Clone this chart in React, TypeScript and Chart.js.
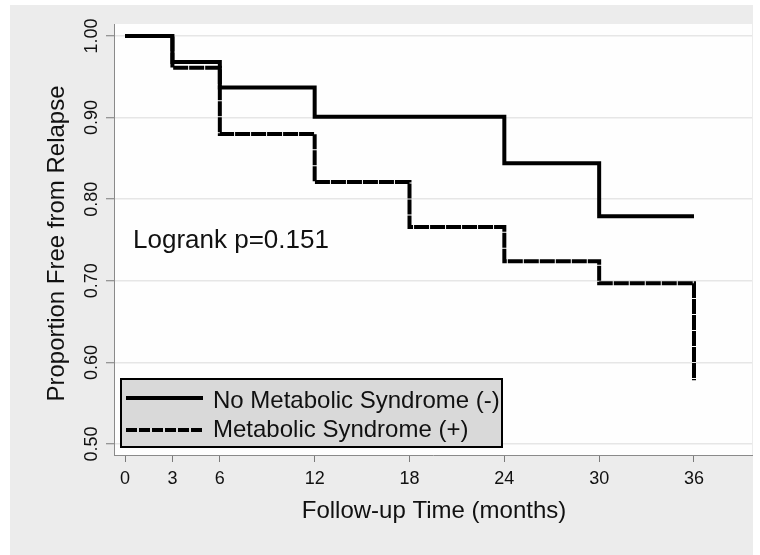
import React, { useEffect, useRef } from "react";
import { Chart, registerables } from "chart.js";

Chart.register(...registerables);

const monthsNoMetS = [0, 3, 6, 12, 24, 30, 36];
const survivalNoMetS = [1.0, 0.968, 0.937, 0.901, 0.844, 0.779, 0.779];
const monthsMetS = [0, 3, 6, 12, 18, 24, 30, 36];
const survivalMetS = [1.0, 0.961, 0.88, 0.821, 0.766, 0.724, 0.697, 0.578];
const xTickValues = [0, 3, 6, 12, 18, 24, 30, 36];
const yTickValues = [0.5, 0.6, 0.7, 0.8, 0.9, 1.0];
const seriesLabels = ["No Metabolic Syndrome (-)", "Metabolic Syndrome (+)"];
const xTitle = "Follow-up Time (months)";
const yTitle = "Proportion Free from Relapse";
const annotationText = "Logrank p=0.151";

const FONT = '"Liberation Sans", Arial, sans-serif';

const decorPlugin = {
  id: "decor",
  beforeDraw(chart: any) {
    const ctx = chart.ctx;
    const a = chart.chartArea;
    ctx.save();
    ctx.fillStyle = "#ffffff";
    ctx.fillRect(0, 0, chart.width, chart.height);
    ctx.fillStyle = "#ececec";
    ctx.fillRect(10, 5, 743, 550);
    ctx.fillStyle = "#fefefe";
    ctx.fillRect(a.left, a.top, a.right - a.left, a.bottom - a.top);
    ctx.restore();
  },
  afterDraw(chart: any) {
    const ctx = chart.ctx;
    const a = chart.chartArea;
    const y = chart.scales.y;
    ctx.save();
    ctx.fillStyle = "#111111";
    // y tick labels (rotated)
    ctx.font = `18px ${FONT}`;
    ctx.textAlign = "center";
    ctx.textBaseline = "alphabetic";
    for (const v of yTickValues) {
      const py = y.getPixelForValue(v);
      ctx.save();
      ctx.translate(97, py);
      ctx.rotate(-Math.PI / 2);
      ctx.fillText(v.toFixed(2), 0, 0);
      ctx.restore();
    }
    // y title
    ctx.font = `24px ${FONT}`;
    ctx.save();
    ctx.translate(64, (a.top + a.bottom) / 2 + 4);
    ctx.rotate(-Math.PI / 2);
    ctx.fillText(yTitle, 0, 0);
    ctx.restore();
    // x title
    ctx.fillText(xTitle, 434, 518);
    // annotation
    ctx.font = `26px ${FONT}`;
    ctx.textAlign = "left";
    ctx.fillText(annotationText, 133, 248);
    // legend
    ctx.fillStyle = "#d9d9d9";
    ctx.fillRect(120, 378, 383, 70);
    ctx.strokeStyle = "#000";
    ctx.lineWidth = 2;
    ctx.strokeRect(121, 379, 381, 68);
    const rows = [398, 430];
    const dashes = [[], [11, 2]];
    const textBase = [408, 437];
    ctx.font = `24px ${FONT}`;
    for (let i = 0; i < 2; i++) {
      ctx.beginPath();
      ctx.setLineDash(dashes[i]);
      ctx.lineWidth = 4;
      ctx.moveTo(126, rows[i]);
      ctx.lineTo(203, rows[i]);
      ctx.stroke();
      ctx.setLineDash([]);
      ctx.fillStyle = "#111111";
      ctx.fillText(seriesLabels[i], 213, textBase[i]);
    }
    ctx.restore();
  },
};

export default function App() {
  const ref = useRef<HTMLCanvasElement | null>(null);
  useEffect(() => {
    document.body.style.margin = "0";
    const canvas = ref.current!;
    const chart = new Chart(canvas, {
      type: "line",
      data: {
        datasets: [
          {
            label: seriesLabels[0],
            data: monthsNoMetS.map((m, i) => ({ x: m, y: survivalNoMetS[i] })),
            borderColor: "#000",
            borderWidth: 4,
            pointRadius: 0,
            stepped: "before",
            fill: false,
            borderCapStyle: "butt",
            borderJoinStyle: "miter",
          },
          {
            label: seriesLabels[1],
            data: monthsMetS.map((m, i) => ({ x: m, y: survivalMetS[i] })),
            borderColor: "#000",
            borderWidth: 4,
            borderDash: [15, 1],
            pointRadius: 0,
            stepped: "before",
            fill: false,
            borderCapStyle: "butt",
            borderJoinStyle: "miter",
          },
        ],
      },
      options: {
        animation: false,
        responsive: false,
        devicePixelRatio: 1,
        layout: { padding: { top: 24, right: 8, left: 0, bottom: 0 } },
        plugins: { legend: { display: false }, tooltip: { enabled: false } },
        scales: {
          x: {
            type: "linear",
            min: -0.696,
            max: 39.67,
            afterBuildTicks: (s: any) => {
              s.ticks = xTickValues.map((v) => ({ value: v }));
            },
            afterFit: (s: any) => {
              s.height = 100;
            },
            grid: {
              drawOnChartArea: false,
              drawTicks: true,
              tickLength: 7,
              tickColor: "#7a7a7a",
              tickWidth: 1,
            },
            border: { display: true, color: "#8a8a8a", width: 1 },
            ticks: {
              color: "#111",
              font: { family: FONT, size: 18 },
              padding: 6,
              maxRotation: 0,
              callback: (v: any) => String(v),
            },
          },
          y: {
            type: "linear",
            min: 0.4865,
            max: 1.0147,
            afterBuildTicks: (s: any) => {
              s.ticks = yTickValues.map((v) => ({ value: v }));
            },
            afterFit: (s: any) => {
              s.width = 114;
            },
            grid: {
              color: "#e6e6e6",
              lineWidth: 1.5,
              drawTicks: true,
              tickLength: 8,
              tickColor: "#7a7a7a",
              tickWidth: 1,
            },
            border: { display: true, color: "#8a8a8a", width: 1 },
            ticks: { display: false },
          },
        },
      },
      plugins: [decorPlugin],
    } as any);
    return () => chart.destroy();
  }, []);
  return (
    <div style={{ width: 760, height: 555 }}>
      <canvas ref={ref} width={760} height={555} style={{ display: "block" }} />
    </div>
  );
}
